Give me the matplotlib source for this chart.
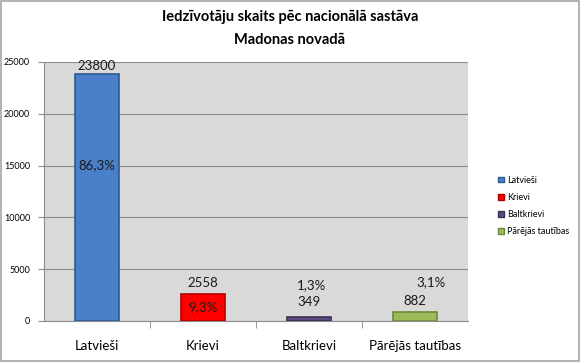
import matplotlib
matplotlib.use("Agg")
import matplotlib.pyplot as plt
from matplotlib.patches import Rectangle
import numpy as np

plt.rcParams['font.family'] = ['Lato', 'DejaVu Sans']

categories = ["Latvieši", "Krievi", "Baltkrievi", "Pārējās tautības"]
values = [23800, 2558, 349, 882]
percents = ["86,3%", "9,3%", "1,3%", "3,1%"]
colors = ["#4a7fc9", "#ff0000", "#5b4a80", "#9bbb59"]
edges = ["#2e5a91", "#b00000", "#3a2e55", "#6b8a3a"]
yticks = [0, 5000, 10000, 15000, 20000, 25000]

fig = plt.figure(figsize=(5.8, 3.62), dpi=100)
fig.patch.set_facecolor("white")
fig.add_artist(Rectangle((0.002, 0.003), 0.996, 0.994, transform=fig.transFigure,
                         fill=False, edgecolor="#a6a6a6", linewidth=1.2))

ax = fig.add_axes([44/580, 1-321/362, 424/580, 259/362])
ax.set_facecolor("#d9d9d9")
x = np.arange(len(categories))
ax.bar(x, values, width=0.42, color=colors, edgecolor=edges, linewidth=1.2, zorder=3)
ax.set_xlim(-0.5, 3.5)
ax.set_ylim(0, 25000)
ax.set_yticks(yticks)
ax.set_yticklabels([str(t) for t in yticks], fontsize=6.5)
ax.yaxis.grid(True, color="#8c8c8c", linewidth=0.8, zorder=0)
ax.set_axisbelow(True)
ax.set_xticks(x)
ax.set_xticklabels(categories, fontsize=9.5)
ax.tick_params(axis='x', length=0, pad=14)
ax.set_xticks([0.5, 1.5, 2.5], minor=True)
ax.tick_params(axis='x', which='minor', length=5, color="#8c8c8c")
ax.tick_params(axis='y', length=4, color="#8c8c8c", pad=6)
for s in ["top", "right"]:
    ax.spines[s].set_visible(False)
ax.spines["left"].set_color("#8c8c8c")
ax.spines["bottom"].set_color("#8c8c8c")

# value labels
val_y = [24650, 3670, 1834, 1930]
for i, (v, yy) in enumerate(zip(values, val_y)):
    ax.text(i, yy, str(v), ha="center", va="center", fontsize=9.5, color="#1a1a1a", zorder=5)
pct_y = [15000, 1300, 3475, 3760]
pct_x = [0, 0, 0.02, 0.15]
for i, (p, yy, dx) in enumerate(zip(percents, pct_y, pct_x)):
    ax.text(i + dx, yy, p, ha="center", va="center", fontsize=9.5, color="#1a1a1a", zorder=5)

fig.text(0.5, 1-17/362, "Iedzīvotāju skaits pēc nacionālā sastāva", ha="center", va="center",
         fontsize=10.5, fontweight="bold")
fig.text(0.5, 1-40/362, "Madonas novadā", ha="center", va="center",
         fontsize=10.5, fontweight="bold")

handles = [Rectangle((0, 0), 1, 1, facecolor=c, edgecolor=e) for c, e in zip(colors, edges)]
fig.legend(handles, categories, loc="center left", bbox_to_anchor=(490/580, 1-206/362),
           frameon=False, fontsize=6.5, handlelength=0.6, handleheight=0.6,
           handletextpad=0.4, labelspacing=0.9)

fig.savefig("out.png", dpi=100, facecolor="white")
